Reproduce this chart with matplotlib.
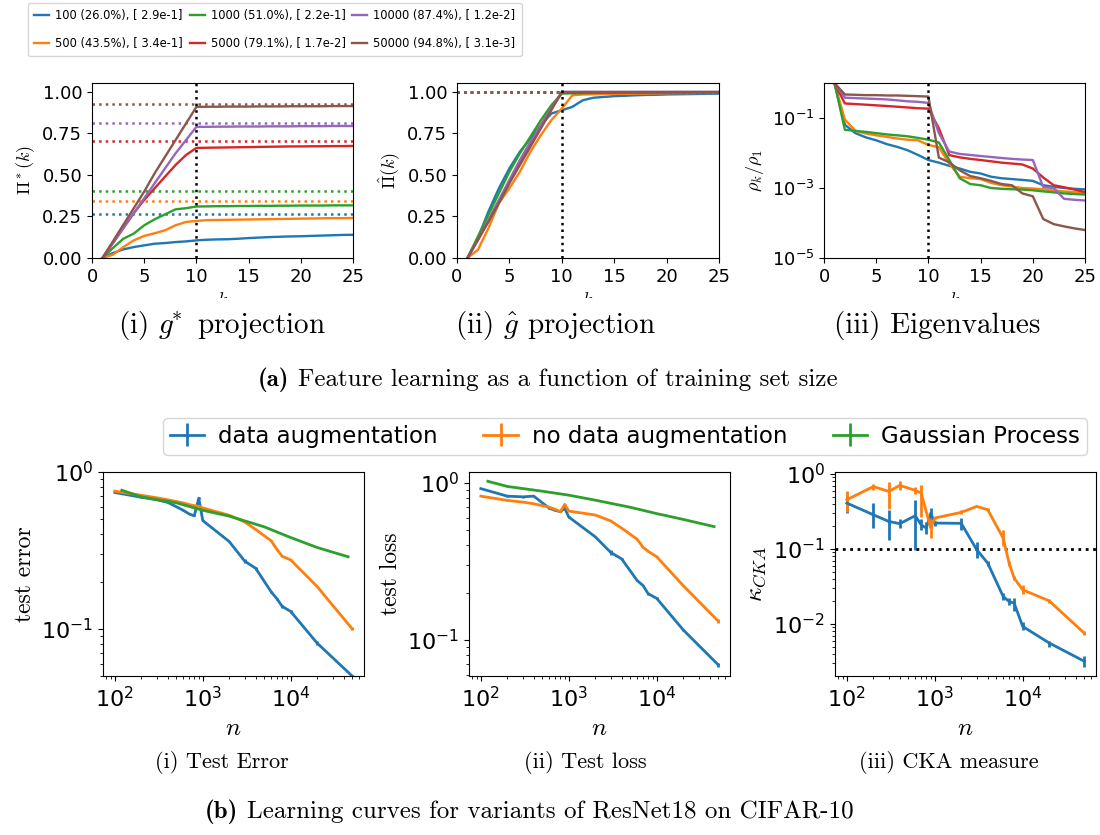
import numpy as np
import matplotlib
matplotlib.use('Agg')
import matplotlib.pyplot as plt
import matplotlib.ticker as mticker
from matplotlib.transforms import Bbox

plt.rcParams['mathtext.fontset'] = 'cm'

# ---------------- data: top row ----------------
k = list(range(1, 26))
train_sizes = ['100 (26.0%), [ 2.9e-1]', '500 (43.5%), [ 3.4e-1]', '1000 (51.0%), [ 2.2e-1]',
               '5000 (79.1%), [ 1.7e-2]', '10000 (87.4%), [ 1.2e-2]', '50000 (94.8%), [ 3.1e-3]']
colors = ['C0', 'C1', 'C2', 'C3', 'C4', 'C5']

pi_star_100 = [0, 0.03, 0.052, 0.066, 0.076, 0.086, 0.09, 0.096, 0.10, 0.106, 0.11, 0.112, 0.113, 0.116, 0.12,
               0.123, 0.126, 0.128, 0.13, 0.131, 0.133, 0.135, 0.137, 0.139, 0.14]
pi_star_500 = [0, 0.02, 0.066, 0.106, 0.133, 0.149, 0.167, 0.197, 0.217, 0.223, 0.228, 0.229, 0.23, 0.231, 0.232,
               0.233, 0.234, 0.235, 0.236, 0.237, 0.238, 0.239, 0.24, 0.24, 0.241]
pi_star_1000 = [0, 0.06, 0.116, 0.147, 0.197, 0.233, 0.263, 0.293, 0.30, 0.31, 0.311, 0.312, 0.312, 0.313, 0.313,
                0.314, 0.314, 0.315, 0.315, 0.316, 0.316, 0.316, 0.317, 0.317, 0.317]
pi_star_5000 = [0, 0.09, 0.18, 0.27, 0.35, 0.42, 0.49, 0.56, 0.62, 0.663, 0.664, 0.665, 0.666, 0.667, 0.668,
                0.669, 0.67, 0.671, 0.672, 0.672, 0.673, 0.673, 0.674, 0.674, 0.675]
pi_star_10000 = [0, 0.09, 0.18, 0.27, 0.36, 0.45, 0.54, 0.63, 0.71, 0.79, 0.79, 0.791, 0.791, 0.792, 0.792,
                 0.792, 0.793, 0.793, 0.793, 0.794, 0.794, 0.794, 0.795, 0.795, 0.795]
pi_star_50000 = [0, 0.10, 0.20, 0.30, 0.40, 0.51, 0.61, 0.71, 0.81, 0.91, 0.911, 0.911, 0.912, 0.912, 0.912,
                 0.913, 0.913, 0.913, 0.914, 0.914, 0.914, 0.914, 0.915, 0.915, 0.915]
pi_star_levels = [0.263, 0.343, 0.402, 0.705, 0.815, 0.928]

pi_hat_100 = [0, 0.12, 0.28, 0.42, 0.54, 0.64, 0.72, 0.80, 0.87, 0.89, 0.91, 0.95, 0.965, 0.97, 0.975,
              0.977, 0.98, 0.982, 0.983, 0.985, 0.986, 0.987, 0.988, 0.989, 0.99]
pi_hat_500 = [0, 0.05, 0.18, 0.33, 0.42, 0.52, 0.64, 0.74, 0.83, 0.90, 0.98, 0.985, 0.986, 0.987, 0.988,
              0.989, 0.99, 0.99, 0.991, 0.992, 0.993, 0.993, 0.994, 0.994, 0.995]
pi_hat_1000 = [0, 0.13, 0.26, 0.39, 0.52, 0.63, 0.73, 0.83, 0.92, 0.99, 0.992, 0.993, 0.994, 0.995, 0.995,
               0.996, 0.996, 0.996, 0.997, 0.997, 0.997, 0.998, 0.998, 0.998, 0.998]
pi_hat_5000 = [0, 0.11, 0.22, 0.34, 0.46, 0.58, 0.69, 0.80, 0.90, 0.995, 0.996, 0.996, 0.997, 0.997, 0.997,
               0.998, 0.998, 0.998, 0.998, 0.999, 0.999, 0.999, 0.999, 0.999, 0.999]
pi_hat_10000 = [0, 0.11, 0.23, 0.35, 0.47, 0.59, 0.70, 0.80, 0.90, 1.0, 1.0, 1.0, 1.0, 1.0, 1.0,
                1.0, 1.0, 1.0, 1.0, 1.0, 1.0, 1.0, 1.0, 1.0, 1.0]
pi_hat_50000 = [0, 0.11, 0.22, 0.33, 0.45, 0.56, 0.67, 0.78, 0.89, 1.0, 1.0, 1.0, 1.0, 1.0, 1.0,
                1.0, 1.0, 1.0, 1.0, 1.0, 1.0, 1.0, 1.0, 1.0, 1.0]
pi_hat_level = 1.0

eig_100 = [1.0, 0.064, 0.037, 0.028, 0.023, 0.018, 0.015, 0.012, 0.0088, 0.0063, 0.0053, 0.0043, 0.0036,
           0.0029, 0.0026, 0.0021, 0.0019, 0.0018, 0.0017, 0.0016, 0.0012, 0.00108, 0.001, 0.00095, 0.00091]
eig_500 = [1.0, 0.09, 0.043, 0.036, 0.032, 0.029, 0.026, 0.024, 0.023, 0.017, 0.0146, 0.005, 0.0021, 0.0019,
           0.0018, 0.0014, 0.0012, 0.0011, 0.001, 0.00097, 0.00092, 0.00085, 0.0008, 0.00076, 0.00072]
eig_1000 = [1.0, 0.046, 0.043, 0.04, 0.037, 0.034, 0.032, 0.03, 0.027, 0.024, 0.02, 0.0063, 0.0019, 0.0013,
            0.0012, 0.001, 0.00095, 0.00092, 0.0009, 0.00086, 0.0008, 0.00075, 0.0007, 0.00067, 0.00065]
eig_5000 = [1.0, 0.26, 0.25, 0.24, 0.23, 0.22, 0.21, 0.2, 0.19, 0.185, 0.051, 0.0087, 0.0075, 0.0068, 0.0063,
            0.0058, 0.0053, 0.005, 0.0047, 0.0036, 0.002, 0.0012, 0.00105, 0.0009, 0.00076]
eig_10000 = [1.0, 0.38, 0.37, 0.36, 0.35, 0.34, 0.32, 0.30, 0.29, 0.27, 0.037, 0.011, 0.0094, 0.0088, 0.0082,
             0.0077, 0.0072, 0.0068, 0.0065, 0.0063, 0.00107, 0.001, 0.00049, 0.00046, 0.00044]
eig_50000 = [1.0, 0.47, 0.46, 0.45, 0.45, 0.44, 0.44, 0.43, 0.42, 0.41, 0.0074, 0.0054, 0.0032, 0.0022, 0.0019,
             0.0016, 0.0013, 0.0012, 0.0007, 0.00058, 0.00013, 0.000093, 0.00008, 0.00007, 0.000063]

# ---------------- data: bottom row ----------------
series_labels = ['data augmentation', 'no data augmentation', 'Gaussian Process']
n = [100, 200, 300, 400, 600, 700, 800, 900, 1000, 2000, 3000, 4000, 6000, 7000, 8000, 10000, 20000, 50000]
n_gp = [120, 200, 500, 1000, 2000, 5000, 10000, 20000, 45000]

err_aug = [0.74, 0.69, 0.665, 0.64, 0.57, 0.54, 0.525, 0.68, 0.49, 0.36, 0.27, 0.243, 0.172, 0.155, 0.139,
           0.129, 0.081, 0.050]
err_aug_sd = [0.005, 0.004, 0.004, 0.004, 0.004, 0.004, 0.004, 0.01, 0.004, 0.003, 0.008, 0.005, 0.003, 0.003,
              0.003, 0.003, 0.002, 0.001]
err_noaug = [0.755, 0.71, 0.685, 0.665, 0.635, 0.62, 0.61, 0.605, 0.59, 0.53, 0.48, 0.43, 0.364, 0.32, 0.29,
             0.275, 0.186, 0.10]
err_gp = [0.765, 0.694, 0.636, 0.57, 0.523, 0.447, 0.382, 0.33, 0.288]

loss_aug = [0.92, 0.824, 0.816, 0.824, 0.69, 0.67, 0.656, 0.69, 0.607, 0.454, 0.361, 0.328, 0.239, 0.222,
            0.197, 0.184, 0.116, 0.0695]
loss_aug_sd = [0.01, 0.012, 0.012, 0.006, 0.006, 0.005, 0.005, 0.005, 0.005, 0.004, 0.012, 0.007, 0.003,
               0.003, 0.003, 0.003, 0.002, 0.002]
loss_noaug = [0.824, 0.774, 0.755, 0.737, 0.70, 0.68, 0.656, 0.73, 0.662, 0.625, 0.573, 0.515, 0.438, 0.389,
              0.367, 0.339, 0.222, 0.132]
loss_gp = [1.025, 0.95, 0.886, 0.836, 0.777, 0.70, 0.638, 0.586, 0.527]

cka_aug = [0.41, 0.286, 0.233, 0.218, 0.278, 0.21, 0.19, 0.30, 0.222, 0.22, 0.098, 0.065, 0.0233, 0.02,
           0.019, 0.0093, 0.0056, 0.0032]
cka_aug_lo = [0.30, 0.19, 0.133, 0.19, 0.098, 0.18, 0.16, 0.22, 0.20, 0.18, 0.076, 0.06, 0.021, 0.018,
              0.015, 0.0083, 0.005, 0.0027]
cka_aug_hi = [0.53, 0.41, 0.334, 0.25, 0.455, 0.25, 0.23, 0.35, 0.24, 0.26, 0.126, 0.07, 0.026, 0.022,
              0.022, 0.0105, 0.006, 0.0037]
n_cka_noaug = [100, 200, 300, 400, 600, 700, 900, 1000, 2000, 3000, 4000, 6000, 7000, 8000, 10000, 20000, 50000]
cka_noaug = [0.454, 0.68, 0.586, 0.705, 0.605, 0.557, 0.19, 0.259, 0.308, 0.37, 0.334, 0.14, 0.065, 0.041,
             0.0286, 0.0204, 0.0076]
cka_noaug_lo = [0.308, 0.62, 0.341, 0.62, 0.54, 0.27, 0.14, 0.25, 0.29, 0.36, 0.32, 0.11, 0.06, 0.039,
                0.025, 0.019, 0.0072]
cka_noaug_hi = [0.586, 0.74, 0.773, 0.80, 0.68, 0.72, 0.27, 0.27, 0.33, 0.38, 0.35, 0.18, 0.07, 0.044,
                0.033, 0.0215, 0.008]
cka_threshold = 0.1

# ---------------- figure ----------------
W, H = 1100, 835
fig = plt.figure(figsize=(W / 100, H / 100), dpi=100)


def ax_px(l, t, r, b):
    return fig.add_axes([l / W, 1 - b / H, (r - l) / W, (b - t) / H])


CM = 'cmr10'
CMB = 'cmb10'
ax1 = ax_px(92, 83, 353, 258)
ax2 = ax_px(457, 83, 719, 258)
ax3 = ax_px(824, 83, 1085, 258)

pi_star = [pi_star_100, pi_star_500, pi_star_1000, pi_star_5000, pi_star_10000, pi_star_50000]
pi_hat = [pi_hat_100, pi_hat_500, pi_hat_1000, pi_hat_5000, pi_hat_10000, pi_hat_50000]
eigs = [eig_100, eig_500, eig_1000, eig_5000, eig_10000, eig_50000]

for i in range(6):
    ax1.plot(k, pi_star[i], color=colors[i], lw=1.7, label=train_sizes[i])
    ax1.axhline(pi_star_levels[i], color=colors[i], ls=':', lw=1.8)
    ax2.plot(k, pi_hat[i], color=colors[i], lw=1.7)
    ax2.axhline(pi_hat_level, color=colors[i], ls=':', lw=1.8)
    ax3.plot(k, eigs[i], color=colors[i], lw=1.7)

for ax in (ax1, ax2, ax3):
    ax.axvline(10, color='k', ls=':', lw=1.8)
    ax.set_xlim(0, 25)
    ax.set_xticks([0, 5, 10, 15, 20, 25])
    ax.tick_params(labelsize=13)
    lab = ax.set_xlabel('$k$', fontsize=13)
    lab.set_clip_box(Bbox.from_extents(0, H - 298, W, H))
    lab.set_clip_on(True)

for ax in (ax1, ax2):
    ax.set_ylim(0, 1.054)
    ax.set_yticks([0, 0.25, 0.5, 0.75, 1.0])
ax3.set_yscale('log')
ax3.set_ylim(1e-5, 1)
ax3.set_yticks([1e-5, 1e-3, 1e-1])
ax3.yaxis.set_minor_locator(mticker.NullLocator())

ax1.set_ylabel(r'$\Pi^*(k)$', fontsize=13)
ax2.set_ylabel(r'$\hat{\Pi}(k)$', fontsize=13)
ax3.set_ylabel(r'$\rho_k/\rho_1$', fontsize=13)

h1, l1 = ax1.get_legend_handles_labels()
fig.legend(h1, l1, loc='upper left', bbox_to_anchor=(28 / W, 1 - 3 / H), ncol=3, fontsize=8.3,
           handlelength=1.3, handletextpad=0.5, columnspacing=0.6, labelspacing=1.25, borderpad=0.55,
           borderaxespad=0)

fig.text(222 / W, 1 - 325 / H, r'(i) $g^{\!\!*}$ projection', ha='center', va='center', fontsize=21, family=CM)
fig.text(555 / W, 1 - 325 / H, r'(ii) $\hat{g}$ projection', ha='center', va='center', fontsize=21, family=CM)
fig.text(937 / W, 1 - 325 / H, r'(iii) Eigenvalues', ha='center', va='center', fontsize=21, family=CM)

ta = fig.text(258 / W, 1 - 380 / H, '(a)', ha='left', va='center', fontsize=18, family=CMB)
fig.add_artist(plt.Annotation('Feature learning as a function of training set size', xy=(1, 0.5),
                              xycoords=ta, xytext=(6, 0), textcoords='offset points', ha='left',
                              va='center', fontsize=18, family=CM))

# bottom row
bx1 = ax_px(103, 472, 364, 676)
bx2 = ax_px(469, 472, 730, 676)
bx3 = ax_px(835, 472, 1096, 676)

ekw = dict(lw=2, elinewidth=2, capsize=0)
e1 = bx1.errorbar(n, err_aug, yerr=err_aug_sd, color='C0', **ekw)
e2 = bx1.errorbar(n, err_noaug, yerr=[0.002] * len(n), color='C1', **ekw)
e3 = bx1.errorbar(n_gp, err_gp, yerr=[0] * len(n_gp), color='C2', **ekw)

bx2.errorbar(n, loss_aug, yerr=loss_aug_sd, color='C0', **ekw)
bx2.errorbar(n, loss_noaug, yerr=[0.003] * len(n), color='C1', **ekw)
bx2.errorbar(n_gp, loss_gp, yerr=[0] * len(n_gp), color='C2', **ekw)

cka_aug_err = [np.array(cka_aug) - np.array(cka_aug_lo), np.array(cka_aug_hi) - np.array(cka_aug)]
cka_noaug_err = [np.array(cka_noaug) - np.array(cka_noaug_lo), np.array(cka_noaug_hi) - np.array(cka_noaug)]
bx3.errorbar(n, cka_aug, yerr=cka_aug_err, color='C0', **ekw)
bx3.errorbar(n_cka_noaug, cka_noaug, yerr=cka_noaug_err, color='C1', **ekw)
bx3.axhline(cka_threshold, color='k', ls=':', lw=2)

for ax in (bx1, bx2, bx3):
    ax.set_xscale('log')
    ax.set_yscale('log')
    ax.tick_params(labelsize=16)
    ax.set_xlabel('$n$', fontsize=18)
bx1.set_ylim(0.05, 1.0)
bx1.set_ylabel('test error', fontsize=17, family=CM)
bx2.set_ylabel('test loss', fontsize=17, family=CM)
bx3.set_ylabel(r'$\kappa_{CKA}$', fontsize=18)

fig.legend([e1, e2, e3], series_labels, loc='upper left', bbox_to_anchor=(163 / W, 1 - 418 / H), ncol=3,
           fontsize=16.5, handlelength=1.5, handletextpad=0.6, columnspacing=2.0, borderpad=0.3,
           borderaxespad=0)

fig.text(222 / W, 1 - 763 / H, '(i) Test Error', ha='center', va='center', fontsize=16, family=CM)
fig.text(585 / W, 1 - 763 / H, '(ii) Test loss', ha='center', va='center', fontsize=16, family=CM)
fig.text(949 / W, 1 - 763 / H, '(iii) CKA measure', ha='center', va='center', fontsize=16, family=CM)

tb = fig.text(205 / W, 1 - 812 / H, '(b)', ha='left', va='center', fontsize=18, family=CMB)
fig.add_artist(plt.Annotation('Learning curves for variants of ResNet18 on CIFAR-10', xy=(1, 0.5),
                              xycoords=tb, xytext=(6, 0), textcoords='offset points', ha='left',
                              va='center', fontsize=18, family=CM))

fig.savefig('out.png', dpi=100)
